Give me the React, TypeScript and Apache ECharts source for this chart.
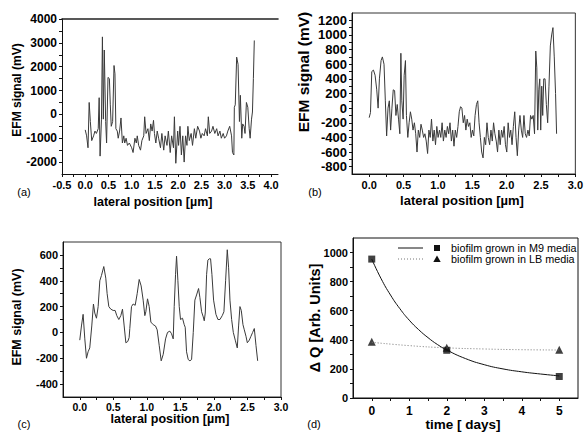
import React, { useEffect, useRef } from "react";
import * as echarts from "echarts";

// ---------- Panel (a) ----------
const A_X = [0, 0.03, 0.06, 0.085, 0.11, 0.14, 0.18, 0.21, 0.24, 0.28, 0.3, 0.32, 0.35, 0.37, 0.39, 0.41, 0.44, 0.46, 0.49, 0.52, 0.54, 0.56, 0.59, 0.62, 0.64, 0.66, 0.69, 0.71, 0.74, 0.77, 0.8, 0.83, 0.85, 0.88, 0.91, 0.95, 1.0, 1.03, 1.07, 1.1, 1.12, 1.15, 1.19, 1.22, 1.26, 1.28, 1.31, 1.35, 1.38, 1.41, 1.44, 1.47, 1.49, 1.52, 1.55, 1.58, 1.62, 1.65, 1.69, 1.72, 1.76, 1.79, 1.83, 1.86, 1.9, 1.92, 1.95, 1.99, 2.01, 2.04, 2.07, 2.1, 2.13, 2.16, 2.19, 2.21, 2.24, 2.28, 2.31, 2.35, 2.38, 2.42, 2.46, 2.49, 2.52, 2.56, 2.59, 2.63, 2.65, 2.68, 2.72, 2.75, 2.79, 2.83, 2.86, 2.9, 2.93, 2.97, 3.0, 3.04, 3.07, 3.11, 3.15, 3.17, 3.2, 3.21, 3.23, 3.26, 3.29, 3.32, 3.34, 3.37, 3.39, 3.42, 3.44, 3.47, 3.5, 3.53, 3.55, 3.58, 3.6, 3.62, 3.64];
const A_Y = [-650, -900, -1400, 500, -300, -1100, -900, -700, -800, -600, 700, -1750, -200, 3250, -200, 2700, -300, -1200, 1550, 1500, 400, -500, -300, 2050, 1700, -600, -700, -1000, -700, -150, -1200, -900, -1200, -1000, -1300, -1200, -1400, -1600, -1000, -1200, -900, -1300, -1500, -1100, -900, -100, -800, -600, -1100, -400, -700, -250, -800, -1200, -700, -1000, -1400, -800, -1500, -900, -1300, -700, -1600, -900, -1400, -100, -2050, -700, -1300, -500, -1700, -900, -2000, -900, -1300, -500, -1100, -800, -1300, -600, -1000, -500, -700, -1000, -800, -900, -600, -900, -100, -800, -700, -500, -800, -600, -900, -700, -1000, -800, -1000, -900, -700, -500, -900, -1600, -1700, 300, 400, 2400, 2100, -300, 800, -1000, -400, -500, -800, 500, 300, -600, -1000, -200, 100, 1500, 3100];
const A_XTICKS = [-0.5, 0, 0.5, 1, 1.5, 2, 2.5, 3, 3.5, 4];
const A_YTICKS = [-2000, -1000, 0, 1000, 2000, 3000, 4000];

// ---------- Panel (b) ----------
const B_X = [0, 0.019, 0.038, 0.062, 0.086, 0.11, 0.13, 0.149, 0.173, 0.192, 0.216, 0.235, 0.254, 0.274, 0.293, 0.312, 0.331, 0.35, 0.37, 0.389, 0.408, 0.427, 0.446, 0.461, 0.475, 0.494, 0.509, 0.528, 0.542, 0.562, 0.581, 0.6, 0.619, 0.638, 0.658, 0.677, 0.696, 0.715, 0.735, 0.754, 0.773, 0.792, 0.811, 0.83, 0.85, 0.869, 0.888, 0.907, 0.927, 0.946, 0.965, 0.984, 1.003, 1.023, 1.042, 1.061, 1.08, 1.1, 1.119, 1.138, 1.157, 1.176, 1.196, 1.215, 1.234, 1.253, 1.273, 1.292, 1.311, 1.33, 1.349, 1.369, 1.388, 1.407, 1.426, 1.445, 1.465, 1.484, 1.503, 1.522, 1.541, 1.561, 1.58, 1.599, 1.618, 1.637, 1.657, 1.676, 1.695, 1.714, 1.733, 1.753, 1.772, 1.791, 1.81, 1.829, 1.849, 1.868, 1.887, 1.906, 1.926, 1.945, 1.964, 1.983, 2.002, 2.022, 2.041, 2.06, 2.079, 2.098, 2.118, 2.137, 2.156, 2.175, 2.194, 2.214, 2.233, 2.252, 2.271, 2.29, 2.31, 2.329, 2.348, 2.367, 2.386, 2.406, 2.424, 2.439, 2.453, 2.468, 2.482, 2.496, 2.511, 2.525, 2.54, 2.559, 2.578, 2.597, 2.616, 2.636, 2.655, 2.674, 2.693, 2.712, 2.727];
const B_Y = [-130, -60, 500, 520, 450, 250, 0, 400, 650, 700, 600, 100, -380, 0, 100, -300, 0, 250, 240, -100, 50, -150, -350, 750, 100, -150, 450, 650, -100, -400, -200, -50, -150, -300, -200, -350, -600, -300, -400, -220, -300, -400, -350, -450, -620, -300, -400, -150, -450, -300, -500, -250, -400, -300, -400, -200, -450, -300, -400, -250, -350, -200, -450, -300, -520, -300, -400, -250, -50, 20, 0, -200, -100, -300, -150, -250, -200, -400, -300, -380, -100, 50, 100, -200, -400, -600, -680, -400, -500, -200, -400, -500, -300, -450, -200, -350, -450, -600, -300, -500, -300, -400, -250, -500, -600, -200, -400, -300, -500, -250, -50, -400, -650, -300, -100, -300, -400, -100, -350, -400, -300, -380, -100, -150, -100, -350, 780, 550, -300, 250, 400, -300, 300, -100, 400, 400, 50, -200, 300, 850, 1000, 1100, 700, 200, -350];
const B_XTICKS = [0, 0.5, 1, 1.5, 2, 2.5, 3];
const B_YTICKS = [-800, -600, -400, -200, 0, 200, 400, 600, 800, 1000, 1200];

// ---------- Panel (c) ----------
const C_X = [0, 0.025, 0.05, 0.075, 0.1, 0.124, 0.149, 0.179, 0.204, 0.224, 0.249, 0.274, 0.299, 0.323, 0.358, 0.388, 0.408, 0.433, 0.463, 0.498, 0.527, 0.552, 0.582, 0.612, 0.637, 0.662, 0.687, 0.716, 0.736, 0.746, 0.771, 0.796, 0.826, 0.856, 0.886, 0.915, 0.945, 0.97, 0.985, 1.01, 1.035, 1.06, 1.095, 1.129, 1.154, 1.184, 1.214, 1.244, 1.279, 1.308, 1.343, 1.368, 1.393, 1.408, 1.428, 1.443, 1.463, 1.483, 1.502, 1.532, 1.557, 1.572, 1.592, 1.617, 1.642, 1.667, 1.692, 1.716, 1.741, 1.771, 1.791, 1.816, 1.841, 1.856, 1.871, 1.891, 1.91, 1.93, 1.95, 1.97, 1.995, 2.03, 2.06, 2.09, 2.124, 2.149, 2.174, 2.199, 2.219, 2.239, 2.264, 2.289, 2.318, 2.348, 2.368, 2.388, 2.408, 2.433, 2.453, 2.478, 2.498, 2.527, 2.552, 2.577, 2.602, 2.627, 2.652];
const C_Y = [-60, 50, 140, -50, -200, -150, -120, 50, 220, 150, 110, 200, 400, 440, 510, 420, 300, 200, 180, 170, 170, 130, 100, 130, 180, 50, -80, -70, -40, 30, 200, 220, 210, 300, 410, 360, 250, 130, 160, 260, 200, 80, 60, 50, 20, -100, -220, -170, -50, 0, 10, -10, -50, 200, 450, 590, 400, 200, 100, 110, 60, 40, -150, -210, -220, -210, 0, 250, 290, 340, 270, 160, 120, 90, 150, 450, 560, 570, 570, 450, 250, 140, 100, 100, 130, 160, 400, 640, 500, 250, 100, 0, -60, -120, 50, 200, 170, 60, 20, -30, -80, -60, -30, 0, 30, -100, -220];
const C_XTICKS = [0, 0.5, 1, 1.5, 2, 2.5, 3];
const C_YTICKS = [-400, -200, 0, 200, 400, 600];

// ---------- Panel (d) ----------
const D_DAYS = [0, 2, 5];
const D_M9 = [955, 328, 148];
const D_LB = [386, 345, 331];
const D_FIT_T = [0, 0.25, 0.5, 0.75, 1, 1.25, 1.5, 1.75, 2, 2.5, 3, 3.5, 4, 4.5, 5];
const D_FIT_M9 = [955, 820, 708, 614, 535, 470, 415, 368, 330, 271, 229, 200, 180, 165, 152];
const D_FIT_LB_T = [0, 1, 2, 3, 4, 5];
const D_FIT_LB = [383, 360, 345, 337, 332, 330];
const D_XTICKS = [0, 1, 2, 3, 4, 5];
const D_YTICKS = [0, 200, 400, 600, 800, 1000];

const FONT = '"Liberation Sans", Arial, sans-serif';
const INK = "#111";

function zip(xs: number[], ys: number[]) {
  return xs.map((x, i) => [x, ys[i]]);
}
function steps(step: number, lo: number, hi: number) {
  const out: number[] = [];
  for (let v = lo; v <= hi + 1e-9; v += step) out.push(Math.round(v * 1000) / 1000);
  return out;
}

function xAxisCfg(grid: number, min: number, max: number, labels: number[], ticks: number[], fmt: (v: number) => string, fontSize = 11, margin = 5) {
  return {
    type: "value", gridIndex: grid, min, max, position: "bottom",
    splitLine: { show: false },
    axisLine: { show: true, onZero: false, lineStyle: { color: INK, width: 1 } },
    axisTick: { show: true, inside: false, length: 3, customValues: ticks, lineStyle: { color: INK } },
    axisLabel: { show: true, customValues: labels, formatter: fmt, color: "#000", fontFamily: FONT, fontWeight: "bold", fontSize, margin },
  };
}
function yAxisCfg(grid: number, min: number, max: number, labels: number[], ticks: number[], fontSize = 11, margin = 5) {
  return {
    type: "value", gridIndex: grid, min, max, position: "left",
    splitLine: { show: false },
    axisLine: { show: true, onZero: false, lineStyle: { color: INK, width: 1 } },
    axisTick: { show: true, inside: false, length: 3, customValues: ticks, lineStyle: { color: INK } },
    axisLabel: { show: true, customValues: labels, formatter: (v: number) => String(v), color: "#000", fontFamily: FONT, fontWeight: "bold", fontSize, margin },
  };
}

function txt(x: number, y: number, text: string, size: number, bold: boolean, rotate = false, align = "center") {
  return {
    type: "text", x, y, rotation: rotate ? Math.PI / 2 : 0,
    style: { text, fill: "#000", fontSize: size, fontFamily: FONT, fontWeight: bold ? "bold" : "normal", align, verticalAlign: "middle" },
  };
}

export default function App() {
  const ref = useRef<HTMLDivElement>(null);
  useEffect(() => {
    document.body.style.margin = "0";
    if (!ref.current) return;
    const chart = echarts.init(ref.current, undefined, { renderer: "svg" });
    const f1 = (v: number) => v.toFixed(1);
    const fi = (v: number) => String(v);
    const lineSeries = (xi: number, data: number[][]) => ({
      type: "line", xAxisIndex: xi, yAxisIndex: xi, data, showSymbol: false, symbol: "none",
      lineStyle: { color: "#3a3a3a", width: 1 }, silent: true,
    });
    const option: any = {
      animation: false,
      backgroundColor: "#fff",
      grid: [
        { left: 62, top: 19, width: 216, height: 155, show: false },
        { left: 352, top: 13, width: 225, height: 161, show: true, borderColor: "#333", borderWidth: 1, backgroundColor: "transparent" },
        { left: 63, top: 242, width: 218, height: 155, show: true, borderColor: "#333", borderWidth: 1, backgroundColor: "transparent" },
        { left: 353, top: 238, width: 225, height: 160, show: true, borderColor: "#111", borderWidth: 1, backgroundColor: "transparent" },
      ],
      xAxis: [
        xAxisCfg(0, -0.5, 4.15, A_XTICKS, steps(0.25, -0.5, 4.0), f1),
        xAxisCfg(1, -0.25, 3.0, B_XTICKS, steps(0.25, 0, 3.0), f1),
        xAxisCfg(2, -0.25, 3.0, C_XTICKS, steps(0.25, 0, 3.0), f1, 10.5, 4),
        xAxisCfg(3, -0.5, 5.5, D_XTICKS, steps(0.5, 0, 5.0), fi, 12, 7),
        {
          type: "value", gridIndex: 0, min: -0.5, max: 4.15, position: "top",
          splitLine: { show: false }, axisTick: { show: false }, axisLabel: { show: false },
          axisLine: { show: true, onZero: false, lineStyle: { color: "#222", width: 1.6 } },
        },
      ],
      yAxis: [
        yAxisCfg(0, -2500, 4000, A_YTICKS, steps(500, -2000, 4000), 12, 5),
        yAxisCfg(1, -900, 1300, B_YTICKS, steps(100, -800, 1200), 13, 5),
        yAxisCfg(2, -500, 700, C_YTICKS, steps(100, -400, 600), 11, 5),
        yAxisCfg(3, 0, 1100, D_YTICKS, steps(100, 0, 1000), 11, 5),
      ],
      series: [
        lineSeries(0, zip(A_X, A_Y)),
        lineSeries(1, zip(B_X, B_Y)),
        lineSeries(2, zip(C_X, C_Y)),
        {
          type: "line", xAxisIndex: 3, yAxisIndex: 3, data: zip(D_FIT_T, D_FIT_M9), smooth: true,
          showSymbol: false, symbol: "none", lineStyle: { color: "#111", width: 1 }, silent: true,
        },
        {
          type: "line", xAxisIndex: 3, yAxisIndex: 3, data: zip(D_FIT_LB_T, D_FIT_LB), smooth: true,
          showSymbol: false, symbol: "none", lineStyle: { color: "#777", width: 1, type: [1, 2] }, silent: true,
        },
        {
          type: "scatter", xAxisIndex: 3, yAxisIndex: 3, data: zip(D_DAYS, D_M9), symbol: "rect", symbolSize: 7,
          itemStyle: { color: "#111" }, silent: true,
        },
        {
          type: "scatter", xAxisIndex: 3, yAxisIndex: 3, data: zip(D_DAYS, D_LB), symbol: "triangle", symbolSize: 8,
          itemStyle: { color: "#111" }, silent: true,
        },
      ],
      graphic: [
        // axis titles
        txt(17, 90, "EFM signal (mV)", 12, true, true),
        txt(153, 202, "lateral position [µm]", 12.5, true),
        txt(24, 192, "(a)", 11, false),
        txt(303, 72, "EFM signal (mV)", 15.5, true, true),
        txt(462, 200, "lateral position [µm]", 13, true),
        txt(315, 192, "(b)", 11, false),
        txt(17, 317, "EFM signal (mV)", 12.5, true, true),
        txt(170, 419, "lateral position [µm]", 12.5, true),
        txt(24, 424, "(c)", 11, false),
        txt(315, 318, "Δ Q [Arb. Units]", 14.5, true, true),
        txt(463, 424, "time [ days]", 13.5, true),
        txt(314, 424, "(d)", 11, false),
        // legend of (d)
        { type: "line", shape: { x1: 398, y1: 248, x2: 423, y2: 248 }, style: { stroke: "#111", lineWidth: 1 } },
        { type: "rect", shape: { x: 434, y: 245, width: 6, height: 6 }, style: { fill: "#111" } },
        txt(451, 248, "biofilm grown in M9 media", 10.8, false, false, "left"),
        { type: "line", shape: { x1: 398, y1: 259, x2: 423, y2: 259 }, style: { stroke: "#777", lineWidth: 1, lineDash: [1, 2] } },
        { type: "polygon", shape: { points: [[437, 255.5], [433.3, 262], [440.7, 262]] }, style: { fill: "#111" } },
        txt(451, 259, "biofilm grown in LB media", 10.8, false, false, "left"),
      ],
    };
    chart.setOption(option);
    return () => chart.dispose();
  }, []);
  return <div ref={ref} style={{ width: 586, height: 432 }} />;
}
